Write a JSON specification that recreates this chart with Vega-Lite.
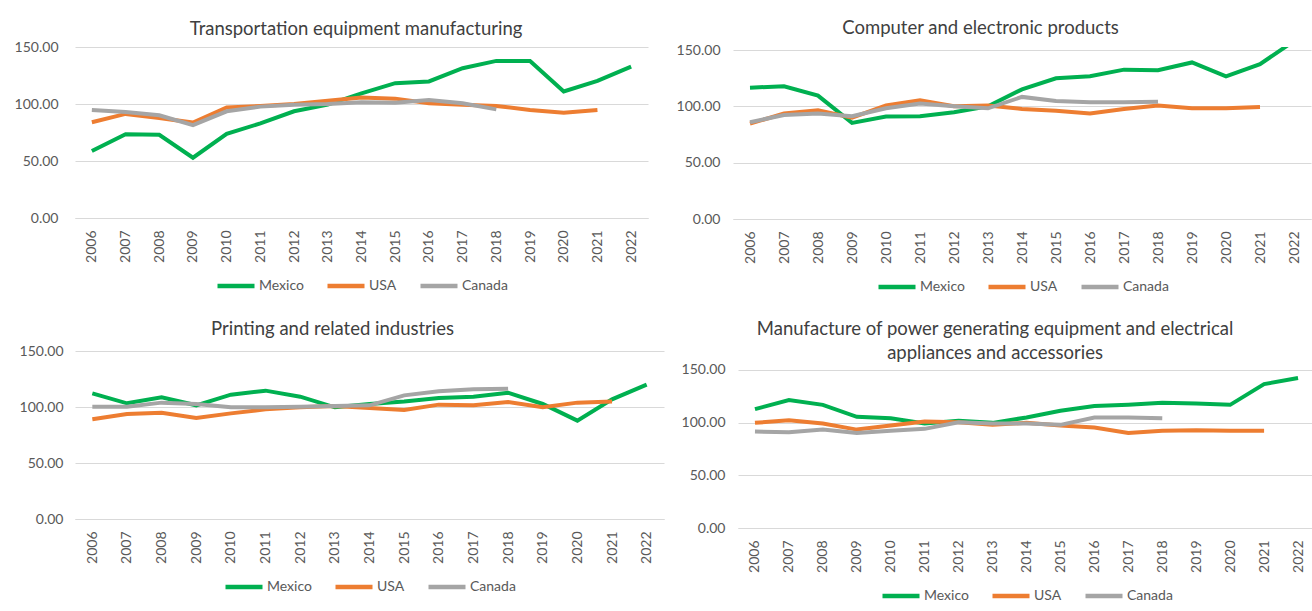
{
  "$schema": "https://vega.github.io/schema/vega-lite/v6.json",
  "background": "white",
  "padding": {"left": 14, "top": 18, "right": 0, "bottom": 0},
  "datasets": {
    "rows": [
      {"panel":"P1","country":"Mexico","year":"2006","value":58.7},{"panel":"P1","country":"Mexico","year":"2007","value":73.5},{"panel":"P1","country":"Mexico","year":"2008","value":73},{"panel":"P1","country":"Mexico","year":"2009","value":52.9},{"panel":"P1","country":"Mexico","year":"2010","value":73.8},{"panel":"P1","country":"Mexico","year":"2011","value":83},{"panel":"P1","country":"Mexico","year":"2012","value":93.6},{"panel":"P1","country":"Mexico","year":"2013","value":99.4},{"panel":"P1","country":"Mexico","year":"2014","value":109.3},{"panel":"P1","country":"Mexico","year":"2015","value":118.3},{"panel":"P1","country":"Mexico","year":"2016","value":119.8},{"panel":"P1","country":"Mexico","year":"2017","value":131.4},{"panel":"P1","country":"Mexico","year":"2018","value":137.8},{"panel":"P1","country":"Mexico","year":"2019","value":137.8},{"panel":"P1","country":"Mexico","year":"2020","value":111},{"panel":"P1","country":"Mexico","year":"2021","value":120.3},{"panel":"P1","country":"Mexico","year":"2022","value":132.8},
      {"panel":"P1","country":"USA","year":"2006","value":84},{"panel":"P1","country":"USA","year":"2007","value":91.3},{"panel":"P1","country":"USA","year":"2008","value":87.8},{"panel":"P1","country":"USA","year":"2009","value":83.7},{"panel":"P1","country":"USA","year":"2010","value":97},{"panel":"P1","country":"USA","year":"2011","value":98.3},{"panel":"P1","country":"USA","year":"2012","value":100},{"panel":"P1","country":"USA","year":"2013","value":102.9},{"panel":"P1","country":"USA","year":"2014","value":105.8},{"panel":"P1","country":"USA","year":"2015","value":104.7},{"panel":"P1","country":"USA","year":"2016","value":100.6},{"panel":"P1","country":"USA","year":"2017","value":99.4},{"panel":"P1","country":"USA","year":"2018","value":98.3},{"panel":"P1","country":"USA","year":"2019","value":94.8},{"panel":"P1","country":"USA","year":"2020","value":92.4},{"panel":"P1","country":"USA","year":"2021","value":94.8},
      {"panel":"P1","country":"Canada","year":"2006","value":94.8},{"panel":"P1","country":"Canada","year":"2007","value":93},{"panel":"P1","country":"Canada","year":"2008","value":90.1},{"panel":"P1","country":"Canada","year":"2009","value":81.4},{"panel":"P1","country":"Canada","year":"2010","value":93.6},{"panel":"P1","country":"Canada","year":"2011","value":97.7},{"panel":"P1","country":"Canada","year":"2012","value":99.4},{"panel":"P1","country":"Canada","year":"2013","value":100},{"panel":"P1","country":"Canada","year":"2014","value":101.5},{"panel":"P1","country":"Canada","year":"2015","value":101.2},{"panel":"P1","country":"Canada","year":"2016","value":103.5},{"panel":"P1","country":"Canada","year":"2017","value":100.6},{"panel":"P1","country":"Canada","year":"2018","value":95.3},
      {"panel":"P2","country":"Mexico","year":"2006","value":116.6},{"panel":"P2","country":"Mexico","year":"2007","value":117.8},{"panel":"P2","country":"Mexico","year":"2008","value":109.5},{"panel":"P2","country":"Mexico","year":"2009","value":85.3},{"panel":"P2","country":"Mexico","year":"2010","value":90.9},{"panel":"P2","country":"Mexico","year":"2011","value":91.2},{"panel":"P2","country":"Mexico","year":"2012","value":94.8},{"panel":"P2","country":"Mexico","year":"2013","value":100.1},{"panel":"P2","country":"Mexico","year":"2014","value":115.1},{"panel":"P2","country":"Mexico","year":"2015","value":124.9},{"panel":"P2","country":"Mexico","year":"2016","value":126.7},{"panel":"P2","country":"Mexico","year":"2017","value":132.6},{"panel":"P2","country":"Mexico","year":"2018","value":132},{"panel":"P2","country":"Mexico","year":"2019","value":139},{"panel":"P2","country":"Mexico","year":"2020","value":126.7},{"panel":"P2","country":"Mexico","year":"2021","value":137.4},{"panel":"P2","country":"Mexico","year":"2022","value":158},
      {"panel":"P2","country":"USA","year":"2006","value":84.7},{"panel":"P2","country":"USA","year":"2007","value":93.6},{"panel":"P2","country":"USA","year":"2008","value":96.5},{"panel":"P2","country":"USA","year":"2009","value":90},{"panel":"P2","country":"USA","year":"2010","value":100.7},{"panel":"P2","country":"USA","year":"2011","value":105.4},{"panel":"P2","country":"USA","year":"2012","value":100.1},{"panel":"P2","country":"USA","year":"2013","value":100.7},{"panel":"P2","country":"USA","year":"2014","value":97.7},{"panel":"P2","country":"USA","year":"2015","value":96},{"panel":"P2","country":"USA","year":"2016","value":93.6},{"panel":"P2","country":"USA","year":"2017","value":97.7},{"panel":"P2","country":"USA","year":"2018","value":100.7},{"panel":"P2","country":"USA","year":"2019","value":98.3},{"panel":"P2","country":"USA","year":"2020","value":98.3},{"panel":"P2","country":"USA","year":"2021","value":99.5},
      {"panel":"P2","country":"Canada","year":"2006","value":85.9},{"panel":"P2","country":"Canada","year":"2007","value":92.4},{"panel":"P2","country":"Canada","year":"2008","value":93.6},{"panel":"P2","country":"Canada","year":"2009","value":91.2},{"panel":"P2","country":"Canada","year":"2010","value":98.3},{"panel":"P2","country":"Canada","year":"2011","value":102.5},{"panel":"P2","country":"Canada","year":"2012","value":100.1},{"panel":"P2","country":"Canada","year":"2013","value":98.3},{"panel":"P2","country":"Canada","year":"2014","value":108.4},{"panel":"P2","country":"Canada","year":"2015","value":104.8},{"panel":"P2","country":"Canada","year":"2016","value":103.6},{"panel":"P2","country":"Canada","year":"2017","value":103.6},{"panel":"P2","country":"Canada","year":"2018","value":104.2},
      {"panel":"P3","country":"Mexico","year":"2006","value":112.2},{"panel":"P3","country":"Mexico","year":"2007","value":103.3},{"panel":"P3","country":"Mexico","year":"2008","value":108.6},{"panel":"P3","country":"Mexico","year":"2009","value":101.5},{"panel":"P3","country":"Mexico","year":"2010","value":111},{"panel":"P3","country":"Mexico","year":"2011","value":114.6},{"panel":"P3","country":"Mexico","year":"2012","value":109.2},{"panel":"P3","country":"Mexico","year":"2013","value":99.7},{"panel":"P3","country":"Mexico","year":"2014","value":102.7},{"panel":"P3","country":"Mexico","year":"2015","value":105},{"panel":"P3","country":"Mexico","year":"2016","value":108},{"panel":"P3","country":"Mexico","year":"2017","value":109.2},{"panel":"P3","country":"Mexico","year":"2018","value":112.8},{"panel":"P3","country":"Mexico","year":"2019","value":102.7},{"panel":"P3","country":"Mexico","year":"2020","value":87.8},{"panel":"P3","country":"Mexico","year":"2021","value":106.8},{"panel":"P3","country":"Mexico","year":"2022","value":119.9},
      {"panel":"P3","country":"USA","year":"2006","value":89},{"panel":"P3","country":"USA","year":"2007","value":93.7},{"panel":"P3","country":"USA","year":"2008","value":94.9},{"panel":"P3","country":"USA","year":"2009","value":90.2},{"panel":"P3","country":"USA","year":"2010","value":94.3},{"panel":"P3","country":"USA","year":"2011","value":97.9},{"panel":"P3","country":"USA","year":"2012","value":99.7},{"panel":"P3","country":"USA","year":"2013","value":100.9},{"panel":"P3","country":"USA","year":"2014","value":99.1},{"panel":"P3","country":"USA","year":"2015","value":97.3},{"panel":"P3","country":"USA","year":"2016","value":102.1},{"panel":"P3","country":"USA","year":"2017","value":101.5},{"panel":"P3","country":"USA","year":"2018","value":104.5},{"panel":"P3","country":"USA","year":"2019","value":99.7},{"panel":"P3","country":"USA","year":"2020","value":103.9},{"panel":"P3","country":"USA","year":"2021","value":105},
      {"panel":"P3","country":"Canada","year":"2006","value":100.3},{"panel":"P3","country":"Canada","year":"2007","value":100.3},{"panel":"P3","country":"Canada","year":"2008","value":103.9},{"panel":"P3","country":"Canada","year":"2009","value":102.7},{"panel":"P3","country":"Canada","year":"2010","value":99.7},{"panel":"P3","country":"Canada","year":"2011","value":99.7},{"panel":"P3","country":"Canada","year":"2012","value":100.3},{"panel":"P3","country":"Canada","year":"2013","value":100.9},{"panel":"P3","country":"Canada","year":"2014","value":101.5},{"panel":"P3","country":"Canada","year":"2015","value":110.4},{"panel":"P3","country":"Canada","year":"2016","value":114},{"panel":"P3","country":"Canada","year":"2017","value":115.8},{"panel":"P3","country":"Canada","year":"2018","value":116.4},
      {"panel":"P4","country":"Mexico","year":"2006","value":112.8},{"panel":"P4","country":"Mexico","year":"2007","value":121.4},{"panel":"P4","country":"Mexico","year":"2008","value":116.9},{"panel":"P4","country":"Mexico","year":"2009","value":105.5},{"panel":"P4","country":"Mexico","year":"2010","value":104.2},{"panel":"P4","country":"Mexico","year":"2011","value":99.1},{"panel":"P4","country":"Mexico","year":"2012","value":101.7},{"panel":"P4","country":"Mexico","year":"2013","value":99.8},{"panel":"P4","country":"Mexico","year":"2014","value":104.9},{"panel":"P4","country":"Mexico","year":"2015","value":111.2},{"panel":"P4","country":"Mexico","year":"2016","value":115.7},{"panel":"P4","country":"Mexico","year":"2017","value":116.9},{"panel":"P4","country":"Mexico","year":"2018","value":118.8},{"panel":"P4","country":"Mexico","year":"2019","value":118.2},{"panel":"P4","country":"Mexico","year":"2020","value":116.9},{"panel":"P4","country":"Mexico","year":"2021","value":136.6},{"panel":"P4","country":"Mexico","year":"2022","value":142.4},
      {"panel":"P4","country":"USA","year":"2006","value":99.8},{"panel":"P4","country":"USA","year":"2007","value":102.3},{"panel":"P4","country":"USA","year":"2008","value":99.1},{"panel":"P4","country":"USA","year":"2009","value":93.4},{"panel":"P4","country":"USA","year":"2010","value":97.2},{"panel":"P4","country":"USA","year":"2011","value":101},{"panel":"P4","country":"USA","year":"2012","value":100.4},{"panel":"P4","country":"USA","year":"2013","value":97.9},{"panel":"P4","country":"USA","year":"2014","value":99.8},{"panel":"P4","country":"USA","year":"2015","value":97.2},{"panel":"P4","country":"USA","year":"2016","value":95.3},{"panel":"P4","country":"USA","year":"2017","value":90.2},{"panel":"P4","country":"USA","year":"2018","value":92.2},{"panel":"P4","country":"USA","year":"2019","value":92.8},{"panel":"P4","country":"USA","year":"2020","value":92.2},{"panel":"P4","country":"USA","year":"2021","value":92.2},
      {"panel":"P4","country":"Canada","year":"2006","value":91.5},{"panel":"P4","country":"Canada","year":"2007","value":90.9},{"panel":"P4","country":"Canada","year":"2008","value":93.4},{"panel":"P4","country":"Canada","year":"2009","value":90.2},{"panel":"P4","country":"Canada","year":"2010","value":92.2},{"panel":"P4","country":"Canada","year":"2011","value":94.1},{"panel":"P4","country":"Canada","year":"2012","value":100.4},{"panel":"P4","country":"Canada","year":"2013","value":99.1},{"panel":"P4","country":"Canada","year":"2014","value":99.1},{"panel":"P4","country":"Canada","year":"2015","value":97.9},{"panel":"P4","country":"Canada","year":"2016","value":104.9},{"panel":"P4","country":"Canada","year":"2017","value":104.9},{"panel":"P4","country":"Canada","year":"2018","value":104.2}
    ]
  },
  "data": {"name": "rows"},
  "spacing": 23,
  "vconcat": [
    {
      "spacing": 28,
      "hconcat": [
        {
          "title": {"text": "Transportation equipment manufacturing", "dx": 25, "offset": 2},
          "width": 573, "height": 171,
          "transform": [{"filter": "datum.panel === 'P1'"}],
          "mark": {"type": "line", "strokeWidth": 4, "clip": true},
          "encoding": {
            "x": {"field": "year", "type": "ordinal", "axis": {"title": null, "labelAngle": -90}},
            "y": {"field": "value", "type": "quantitative", "scale": {"domain": [0, 150]}, "axis": {"title": null, "values": [0, 50, 100, 150], "format": ".2f", "labelPadding": 17}},
            "color": {"field": "country", "type": "nominal", "sort": ["Mexico", "USA", "Canada"], "scale": {"domain": ["Mexico", "USA", "Canada"], "range": ["#00B050", "#ED7D31", "#A5A5A5"]}, "legend": {"title": null}}
          }
        },
        {
          "title": {"text": "Computer and electronic products", "dx": -13, "offset": 6},
          "width": 578, "height": 172,
          "transform": [{"filter": "datum.panel === 'P2'"}],
          "mark": {"type": "line", "strokeWidth": 4, "clip": true},
          "encoding": {
            "x": {"field": "year", "type": "ordinal", "axis": {"title": null, "labelAngle": -90}},
            "y": {"field": "value", "type": "quantitative", "scale": {"domain": [0, 152.7], "nice": false}, "axis": {"title": null, "values": [0, 50, 100, 150], "format": ".2f", "labelPadding": 13}},
            "color": {"field": "country", "type": "nominal", "sort": ["Mexico", "USA", "Canada"], "scale": {"domain": ["Mexico", "USA", "Canada"], "range": ["#00B050", "#ED7D31", "#A5A5A5"]}, "legend": {"title": null}}
          }
        }
      ],
      "resolve": {"legend": {"color": "independent"}}
    },
    {
      "spacing": 17,
      "hconcat": [
        {
          "title": {"text": "Printing and related industries", "dx": -9, "offset": 6},
          "width": 589, "height": 168,
          "transform": [{"filter": "datum.panel === 'P3'"}],
          "mark": {"type": "line", "strokeWidth": 4, "clip": true},
          "encoding": {
            "x": {"field": "year", "type": "ordinal", "axis": {"title": null, "labelAngle": -90}},
            "y": {"field": "value", "type": "quantitative", "scale": {"domain": [0, 150]}, "axis": {"title": null, "values": [0, 50, 100, 150], "format": ".2f", "labelPadding": 12}},
            "color": {"field": "country", "type": "nominal", "sort": ["Mexico", "USA", "Canada"], "scale": {"domain": ["Mexico", "USA", "Canada"], "range": ["#00B050", "#ED7D31", "#A5A5A5"]}, "legend": {"title": null}}
          }
        },
        {
          "title": {"text": ["Manufacture of power generating equipment and electrical", "appliances and accessories"], "dx": -3, "offset": -11},
          "width": 577, "height": 177,
          "transform": [{"filter": "datum.panel === 'P4'"}],
          "mark": {"type": "line", "strokeWidth": 4, "clip": true},
          "encoding": {
            "x": {"field": "year", "type": "ordinal", "axis": {"title": null, "labelAngle": -90}},
            "y": {"field": "value", "type": "quantitative", "scale": {"domain": [0, 168], "nice": false}, "axis": {"title": null, "values": [0, 50, 100, 150], "format": ".2f", "labelPadding": 13}},
            "color": {"field": "country", "type": "nominal", "sort": ["Mexico", "USA", "Canada"], "scale": {"domain": ["Mexico", "USA", "Canada"], "range": ["#00B050", "#ED7D31", "#A5A5A5"]}, "legend": {"title": null}}
          }
        }
      ],
      "resolve": {"legend": {"color": "independent"}}
    }
  ],
  "resolve": {"legend": {"color": "independent"}},
  "config": {
    "font": "Lato",
    "view": {"stroke": null},
    "title": {"font": "Lato", "fontSize": 18.5, "fontWeight": "normal", "color": "#404040", "anchor": "middle", "frame": "bounds", "offset": 4, "lineHeight": 24},
    "axis": {"labelFont": "Lato", "labelFontSize": 14, "labelColor": "#595959", "ticks": false, "gridColor": "#D9D9D9", "gridWidth": 1},
    "axisX": {"domain": true, "domainColor": "#D9D9D9", "domainWidth": 1, "grid": false, "labelPadding": 12},
    "axisY": {"domain": false},
    "legend": {"orient": "bottom", "direction": "horizontal", "symbolType": "stroke", "symbolSize": 1369, "symbolStrokeWidth": 4.5, "labelFont": "Lato", "labelFontSize": 14, "labelColor": "#595959", "labelOffset": 2, "columnPadding": 14, "offset": 2, "layout": {"bottom": {"anchor": "middle"}}},
    "point": {"padding": 0.5}
  }
}
